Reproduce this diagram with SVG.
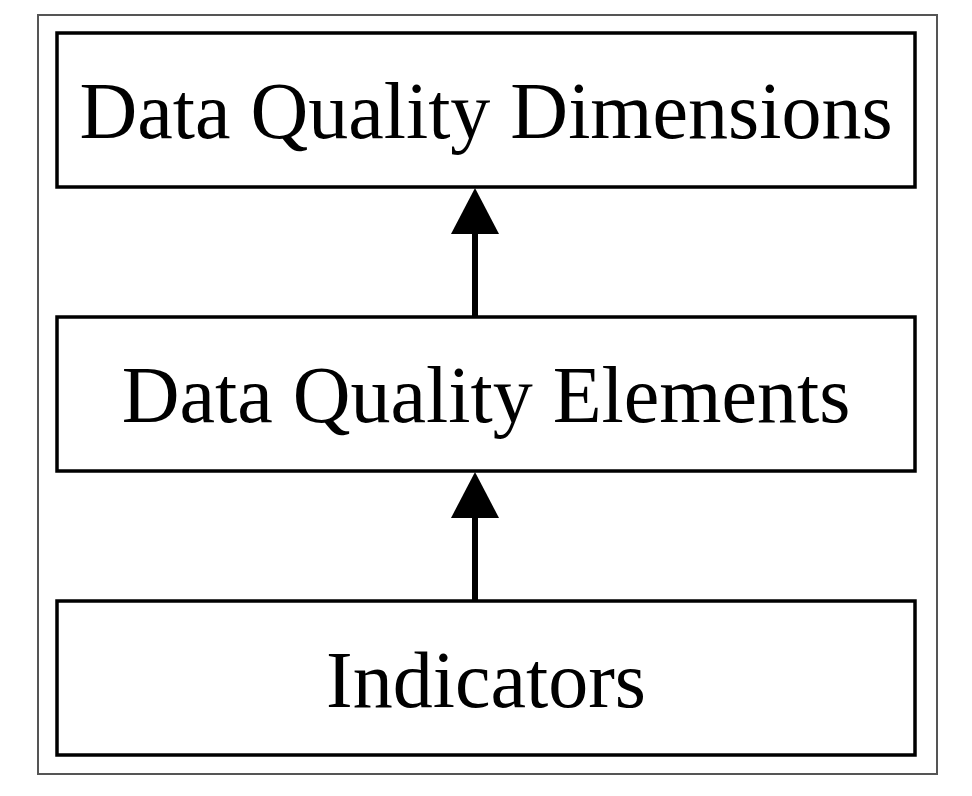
<svg xmlns="http://www.w3.org/2000/svg" width="972" height="796" viewBox="0 0 972 796">
<defs>
<style>
.frame{fill:none;stroke:#555;stroke-width:2}
.box{fill:#fff;stroke:#000;stroke-width:3.5}
.lbl{font-family:"Liberation Serif","Times New Roman",serif;font-size:80px;fill:#000;text-anchor:middle}
.conn{stroke:#000;stroke-width:6;stroke-linecap:round;fill:none}
.head{fill:#000;stroke:none}
</style>
</defs>
<rect width="972" height="796" fill="#fff"/>
<rect class="frame" x="38" y="15" width="899" height="759"/>
<g id="connectors">
<line class="conn" x1="475" y1="317" x2="475" y2="230"/>
<polygon class="head" points="475,188 451,234 499,234"/>
<line class="conn" x1="475" y1="601" x2="475" y2="514"/>
<polygon class="head" points="475,472 451,518 499,518"/>
</g>
<g id="dimensions">
<rect class="box" x="57" y="33" width="858" height="154"/>
<text class="lbl" x="486" y="138">Data Quality Dimensions</text>
</g>
<g id="elements">
<rect class="box" x="57" y="317" width="858" height="154"/>
<text class="lbl" x="486" y="422">Data Quality Elements</text>
</g>
<g id="indicators">
<rect class="box" x="57" y="601" width="858" height="154"/>
<text class="lbl" x="486" y="707">Indicators</text>
</g>
</svg>
